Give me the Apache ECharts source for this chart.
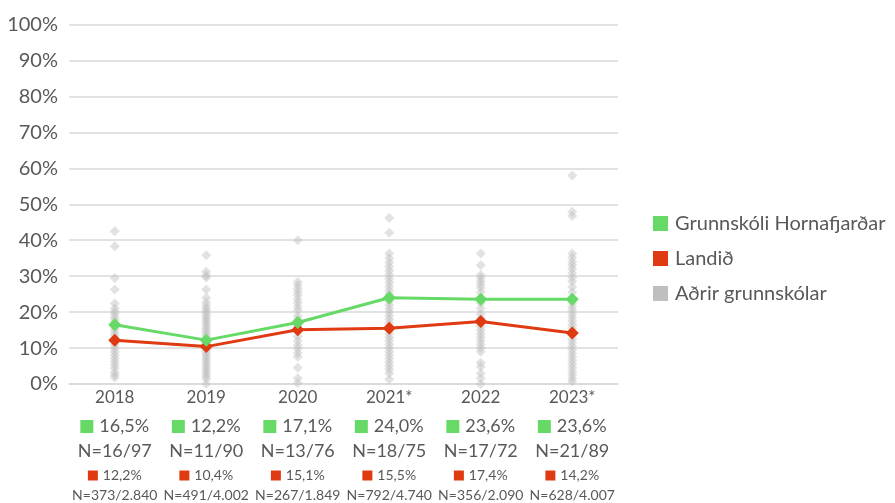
<!DOCTYPE html>
<html>
<head>
<meta charset="utf-8">
<script src="https://cdn.jsdelivr.net/npm/echarts@6/dist/echarts.min.js"></script>
<style>
html,body{margin:0;padding:0;background:#fff;}
#chart{width:895px;height:503px;}
</style>
</head>
<body>
<div id="chart"></div>
<script>
const categories = ['2018', '2019', '2020', '2021*', '2022', '2023*'];
const schoolValues = [16.5, 12.2, 17.1, 24.0, 23.6, 23.6];
const nationalValues = [12.2, 10.4, 15.1, 15.5, 17.4, 14.2];
const schoolLabels = ['16,5%', '12,2%', '17,1%', '24,0%', '23,6%', '23,6%'];
const schoolN = ['N=16/97', 'N=11/90', 'N=13/76', 'N=18/75', 'N=17/72', 'N=21/89'];
const nationalLabels = ['12,2%', '10,4%', '15,1%', '15,5%', '17,4%', '14,2%'];
const nationalN = ['N=373/2.840', 'N=491/4.002', 'N=267/1.849', 'N=792/4.740', 'N=356/2.090', 'N=628/4.007'];
const yTickLabels = ['0%', '10%', '20%', '30%', '40%', '50%', '60%', '70%', '80%', '90%', '100%'];

const others2018 = [42.5, 38.3, 29.5, 26.3, 22.4, 21.0, 20.2, 19.5, 18.6, 17.8, 17.0, 16.0, 15.2, 14.3, 13.5, 12.6, 11.7, 10.8, 9.9, 9.0, 8.0, 7.1, 6.2, 5.3, 4.4, 3.3, 2.5, 1.8];
const others2019 = [35.8, 31.2, 30.2, 29.6, 26.3, 24.0, 22.7, 21.8, 21.0, 20.3, 19.6, 18.9, 18.2, 17.5, 16.8, 16.1, 15.4, 14.7, 14.0, 13.3, 12.6, 11.9, 11.2, 10.5, 9.8, 9.1, 8.4, 7.7, 7.0, 6.3, 5.6, 4.9, 4.2, 3.5, 2.8, 2.1, 1.4, 0.0];
const others2020 = [40.0, 28.4, 27.5, 26.5, 25.6, 24.7, 23.6, 22.6, 21.5, 20.5, 19.0, 18.0, 16.0, 14.5, 13.2, 12.0, 10.8, 9.8, 8.6, 7.6, 4.5, 1.6, 0.3];
const others2021 = [46.2, 42.1, 36.3, 35.0, 33.8, 32.6, 31.5, 30.4, 29.3, 28.2, 27.1, 26.0, 25.0, 24.0, 23.0, 22.0, 21.0, 20.0, 19.0, 18.0, 17.0, 16.0, 15.0, 14.0, 13.0, 12.0, 11.0, 10.0, 9.0, 8.0, 7.0, 6.0, 5.0, 4.0, 3.0, 1.3];
const others2022 = [36.3, 33.0, 30.3, 29.5, 28.6, 27.7, 26.8, 25.5, 24.0, 22.5, 21.0, 19.5, 18.2, 17.0, 16.0, 15.0, 14.0, 13.0, 12.0, 11.0, 10.0, 9.0, 5.9, 4.8, 3.0, 1.6, 0.0];
const others2023 = [58.0, 47.9, 46.7, 36.3, 35.2, 34.0, 33.0, 32.0, 30.8, 29.6, 28.5, 27.0, 25.5, 24.0, 22.5, 21.5, 20.5, 19.5, 18.5, 17.5, 16.5, 15.5, 14.5, 13.5, 12.5, 11.5, 10.5, 9.5, 8.5, 7.5, 6.5, 5.5, 4.5, 3.5, 2.5, 1.5, 0.7];
const othersByYear = [others2018, others2019, others2020, others2021, others2022, others2023];

const GREEN = '#66D966';
const RED = '#DF3A12';
const GRAY = '#BFBFBF';
const TXT = '#595959';
const FONT = 'Lato';

const scatterData = [];
othersByYear.forEach((arr, i) => arr.forEach(v => scatterData.push([i, v])));

const chart = echarts.init(document.getElementById('chart'), null, {renderer: 'canvas'});
chart.setOption({
  animation: false,
  textStyle: {fontFamily: FONT, color: TXT},
  grid: {left: 69, right: 277, top: 24.5, bottom: 119, containLabel: false},
  legend: {
    orient: 'vertical',
    left: 648,
    top: 207,
    itemWidth: 15,
    itemHeight: 15,
    itemGap: 12,
    icon: 'rect',
    textStyle: {fontFamily: FONT, fontSize: 20, color: TXT, lineHeight: 23, padding: [0, 0, 0, 2]},
    data: [
      {name: 'Grunnskóli Hornafjarðar', itemStyle: {color: GREEN}},
      {name: 'Landið', itemStyle: {color: RED}},
      {name: 'Aðrir grunnskólar', itemStyle: {color: GRAY, opacity: 1}}
    ]
  },
  xAxis: {
    type: 'category',
    data: categories,
    boundaryGap: true,
    axisLine: {show: true, lineStyle: {color: '#D9D9D9', width: 1.5}},
    axisTick: {show: false},
    axisLabel: {
      interval: 0,
      margin: 0,
      formatter: function (value, idx) {
        return '{y|' + value + '}\n' +
          '{gs| }{gv|' + schoolLabels[idx] + '}\n' +
          '{n1|' + schoolN[idx] + '}\n' +
          '{rs| }{rv|' + nationalLabels[idx] + '}\n' +
          '{n2|' + nationalN[idx] + '}';
      },
      rich: {
        y: {fontFamily: FONT, fontSize: 17, lineHeight: 27, color: TXT},
        gs: {width: 13, height: 13, backgroundColor: GREEN, lineHeight: 31},
        gv: {fontFamily: FONT, fontSize: 18, lineHeight: 31, color: TXT, padding: [0, 0, 0, 6]},
        n1: {fontFamily: FONT, fontSize: 18, lineHeight: 18, color: TXT},
        rs: {width: 10, height: 10, backgroundColor: RED, lineHeight: 31},
        rv: {fontFamily: FONT, fontSize: 14, lineHeight: 31, color: TXT, padding: [0, 0, 0, 5]},
        n2: {fontFamily: FONT, fontSize: 14, lineHeight: 8, color: TXT}
      }
    }
  },
  yAxis: {
    type: 'value',
    min: 0,
    max: 100,
    interval: 10,
    axisLine: {show: false},
    axisTick: {show: false},
    splitLine: {show: true, lineStyle: {color: '#D9D9D9', width: 1.5}},
    axisLabel: {
      margin: 11,
      fontFamily: FONT,
      fontSize: 20,
      color: TXT,
      formatter: function (v) { return yTickLabels[Math.round(v / 10)]; }
    }
  },
  series: [
    {
      name: 'Aðrir grunnskólar',
      type: 'scatter',
      data: scatterData,
      symbol: 'diamond',
      symbolSize: 10,
      itemStyle: {color: GRAY, opacity: 0.45},
      z: 1
    },
    {
      name: 'Landið',
      type: 'line',
      data: nationalValues,
      symbol: 'diamond',
      symbolSize: 13,
      lineStyle: {color: RED, width: 3},
      itemStyle: {color: RED},
      z: 3
    },
    {
      name: 'Grunnskóli Hornafjarðar',
      type: 'line',
      data: schoolValues,
      symbol: 'diamond',
      symbolSize: 13,
      lineStyle: {color: GREEN, width: 3},
      itemStyle: {color: GREEN},
      z: 4
    }
  ]
});
</script>
</body>
</html>
